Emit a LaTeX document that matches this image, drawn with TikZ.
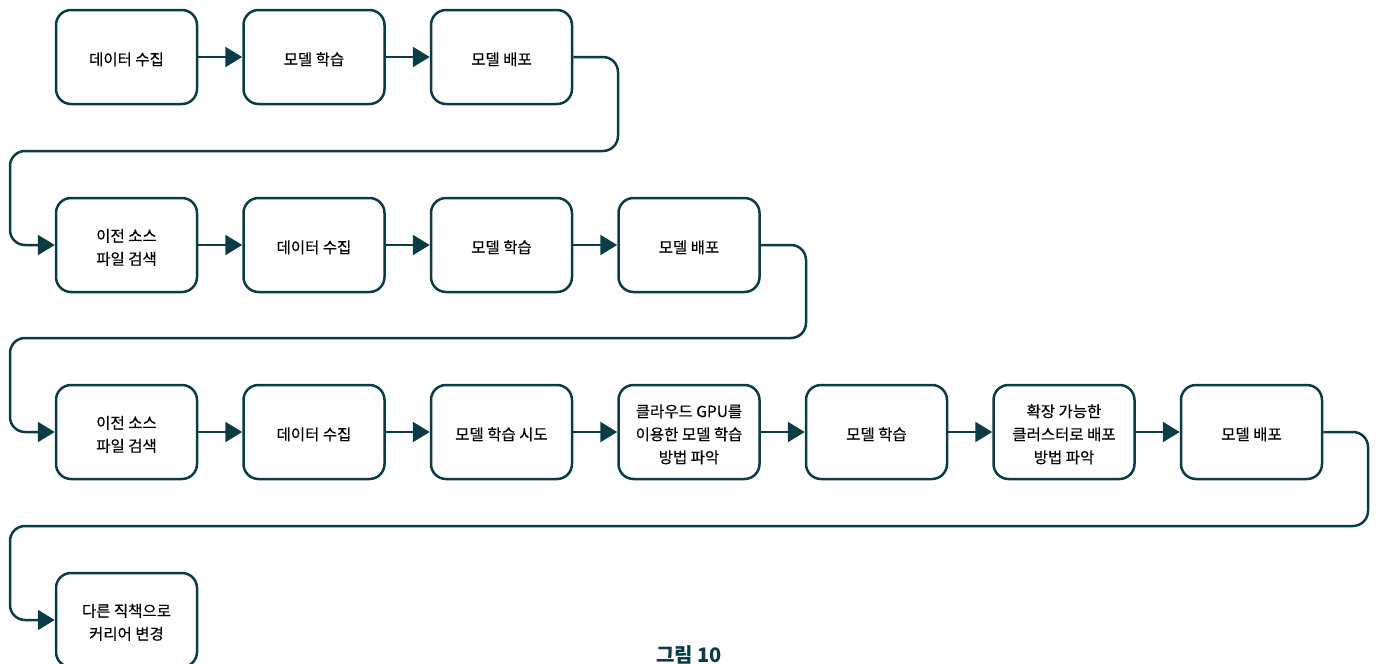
\documentclass[tikz,border=0pt]{standalone}
\usepackage{fontspec}
\setmainfont{Noto Sans CJK KR}
\newfontfamily\boxfont{Noto Sans CJK KR}[FakeBold=0.4]
\usetikzlibrary{arrows.meta}
\definecolor{teal}{HTML}{0B3C45}
\newcommand\bt[1]{\raisebox{-3.5pt}[\height][\depth]{\begin{tabular}{@{}c@{}}#1\end{tabular}}}
\tikzset{
  stepbox/.style={draw=teal, line width=2.5pt, rounded corners=15pt, minimum width=141pt, minimum height=94pt, font=\boxfont\fontsize{15.5pt}{23pt}\selectfont, inner sep=0pt},
  conn/.style={draw=teal, line width=2.5pt, -{Triangle[length=17pt,width=20pt]}},
  wrap/.style={conn, rounded corners=15pt}
}
\begin{document}
\begin{tikzpicture}[x=1pt,y=-1pt]
\useasboundingbox (0,0) rectangle (1377,664);
% row 1
\node[stepbox] (a1) at (126.5,57) {\bt{데이터 수집}};
\node[stepbox] (a2) at (314,57) {\bt{모델 학습}};
\node[stepbox] (a3) at (501.5,57) {\bt{모델 배포}};
% row 2
\node[stepbox] (b1) at (126.5,245) {\bt{이전 소스\\파일 검색}};
\node[stepbox] (b2) at (314,245) {\bt{데이터 수집}};
\node[stepbox] (b3) at (501.5,245) {\bt{모델 학습}};
\node[stepbox] (b4) at (689,245) {\bt{모델 배포}};
% row 3
\node[stepbox] (c1) at (126.5,432) {\bt{이전 소스\\파일 검색}};
\node[stepbox] (c2) at (314,432) {\bt{데이터 수집}};
\node[stepbox] (c3) at (501.5,432) {\bt{모델 학습 시도}};
\node[stepbox] (c4) at (689,432) {\bt{클라우드 GPU를\\이용한 모델 학습\\방법 파악}};
\node[stepbox] (c5) at (876.5,432) {\bt{모델 학습}};
\node[stepbox] (c6) at (1064,432) {\bt{확장 가능한\\클러스터로 배포\\방법 파악}};
\node[stepbox] (c7) at (1251.5,432) {\bt{모델 배포}};
% row 4
\node[stepbox] (d1) at (126.5,620) {\bt{다른 직책으로\\커리어 변경}};
% caption
\node[font=\fontsize{20pt}{22pt}\selectfont\bfseries, text=teal] (cap) at (689,655) {그림 10};
% straight connectors
\draw[conn] (a1) -- (a2);
\draw[conn] (a2) -- (a3);
\draw[conn] (b1) -- (b2);
\draw[conn] (b2) -- (b3);
\draw[conn] (b3) -- (b4);
\draw[conn] (c1) -- (c2);
\draw[conn] (c2) -- (c3);
\draw[conn] (c3) -- (c4);
\draw[conn] (c4) -- (c5);
\draw[conn] (c5) -- (c6);
\draw[conn] (c6) -- (c7);
% wrap connectors
\coordinate (w1r) at (618,151);
\coordinate (w1l) at (10,151);
\coordinate (w2r) at (806,338);
\coordinate (w2l) at (10,338);
\coordinate (w3r) at (1368,526);
\coordinate (w3l) at (10,526);
\draw[wrap] (a3.east) -| (w1r) -- (w1l) |- (b1.west);
\draw[wrap] (b4.east) -| (w2r) -- (w2l) |- (c1.west);
\draw[wrap] (c7.east) -| (w3r) -- (w3l) |- (d1.west);
\end{tikzpicture}
\end{document}
